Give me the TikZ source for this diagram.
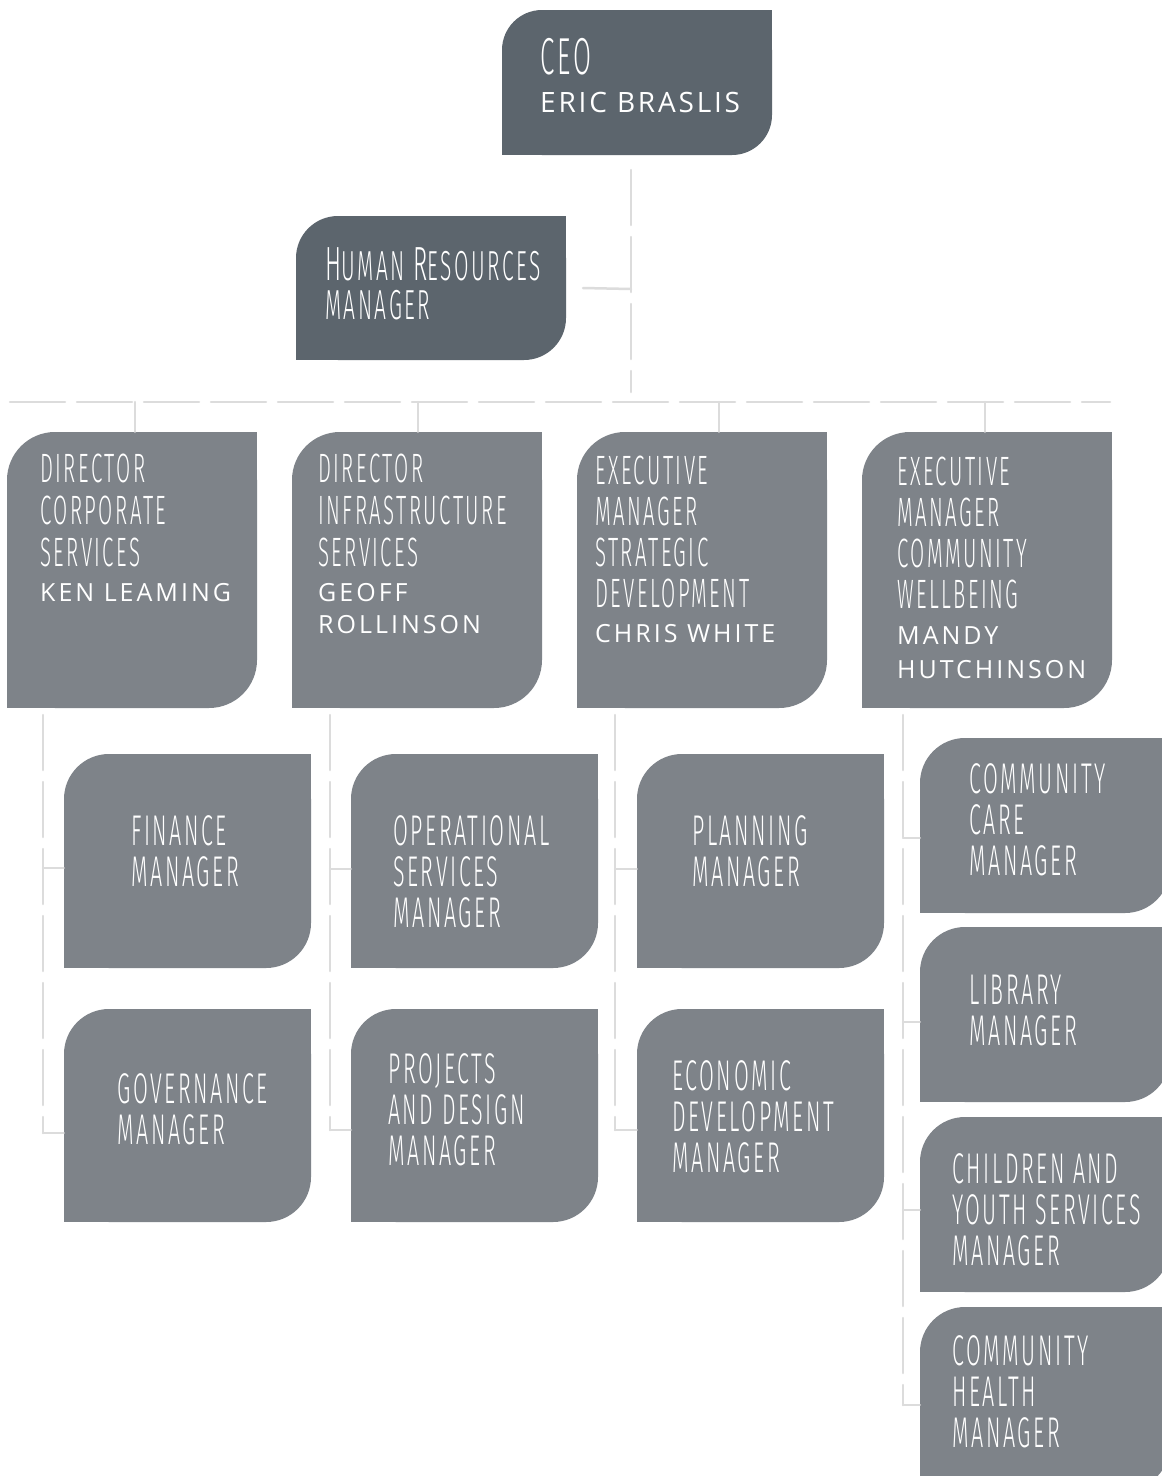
\documentclass[tikz,border=0pt]{standalone}
\usepackage{fontspec}
\IfFontExistsTF{Fira Sans Light}{%
  \newfontfamily\handfont[FakeStretch=0.5,LetterSpace=6]{Fira Sans Light}}{%
  \newfontfamily\handfont[FakeStretch=0.5,LetterSpace=6]{Fira Sans}}
\newfontfamily\namefont[LetterSpace=10]{Open Sans}
\newfontfamily\dirnamefont[LetterSpace=12]{Open Sans}
\definecolor{darkbox}{HTML}{5C656D}
\definecolor{midbox}{HTML}{7E8389}
\definecolor{linegray}{HTML}{DCDCDC}
\newcommand\leafbox[7]{% name, x1, y1, x2, y2, colour, radius
  \fill[#6, rounded corners=#7pt] (#2,-#3) rectangle (#4,-#5);
  \fill[#6] ({#4-#7},-#3) rectangle (#4,{-#3-#7});
  \fill[#6] (#2,{-#5+#7}) rectangle ({#2+#7},-#5);
  \node[inner sep=0pt, minimum width={#4-#2}, minimum height={#5-#3}] (#1) at ({(#2+#4)/2},{-(#3+#5)/2}) {};
}
\tikzset{
  handtxt/.style={anchor=north west, inner sep=0pt, text=white, align=left, font=\handfont\fontsize{43}{41}\selectfont},
  dirtxt/.style={handtxt, font=\handfont\fontsize{41}{42}\selectfont},
  nametxt/.style={anchor=north west, inner sep=0pt, text=white, align=left, font=\dirnamefont\fontsize{25}{32}\selectfont},
  dline/.style={draw=linegray, line width=2.5pt, dash pattern=on 55pt off 12pt, line cap=round},
  sline/.style={draw=linegray, line width=2.5pt, line cap=round},
}
\begin{document}
\begin{tikzpicture}[x=1pt,y=1pt]
\path[use as bounding box, clip] (0,0) rectangle (1162,-1476);
\fill[white] (0,0) rectangle (1162,-1476);

% ---------- connector end points ----------
\coordinate (ceoL) at (631,-170);
\coordinate (busL) at (10,-402);
\coordinate (busR) at (1110,-402);
\coordinate (ceoE) at (631,-392);
\coordinate (hrJ) at (631,-289);
\coordinate (v1) at (43,-715);
\coordinate (v2) at (330,-715);
\coordinate (v3) at (615,-715);
\coordinate (v4) at (903,-715);

% ---------- boxes ----------
\leafbox{ceo}{502}{10}{772}{155}{darkbox}{40}
\leafbox{hr}{296}{216}{566}{360}{darkbox}{42}
\leafbox{d1}{7}{432}{257}{708}{midbox}{48}
\leafbox{d2}{292}{432}{542}{708}{midbox}{48}
\leafbox{d3}{577}{432}{827}{708}{midbox}{48}
\leafbox{d4}{862}{432}{1112}{708}{midbox}{48}
\leafbox{fin}{64}{754}{311}{968}{midbox}{45}
\leafbox{ops}{351}{754}{598}{968}{midbox}{45}
\leafbox{plan}{637}{754}{884}{968}{midbox}{45}
\leafbox{gov}{64}{1009}{311}{1222}{midbox}{45}
\leafbox{proj}{351}{1009}{598}{1222}{midbox}{45}
\leafbox{econ}{637}{1009}{884}{1222}{midbox}{45}
\leafbox{care}{920}{738}{1170}{913}{midbox}{45}
\leafbox{lib}{920}{927}{1170}{1102}{midbox}{45}
\leafbox{child}{920}{1117}{1170}{1292}{midbox}{45}
\leafbox{health}{920}{1307}{1170}{1490}{midbox}{45}

% CEO line, HR stub, bus
\draw[dline] (ceoL) -- (ceoE);
\draw[sline] (hr.east -| 583,0) -- (hrJ);
\draw[dline] (busL) -- (busR);
\draw[sline] (135,-402) -- (d1.north -| 135,0);
\draw[sline] (418,-402) -- (d2.north -| 418,0);
\draw[sline] (719,-402) -- (d3.north -| 719,0);
\draw[sline] (985,-402) -- (d4.north -| 985,0);

% column 1
\draw[dline] (v1) -- (43,-1133);
\draw[sline] (43,-868) -- (fin.west |- 0,-868);
\draw[sline] (43,-1133) -- (gov.west |- 0,-1133);
% column 2
\draw[dline] (v2) -- (330,-1130);
\draw[sline] (330,-869) -- (ops.west |- 0,-869);
\draw[sline] (330,-1130) -- (proj.west |- 0,-1130);
% column 3
\draw[dline] (v3) -- (615,-1130);
\draw[sline] (615,-869) -- (plan.west |- 0,-869);
\draw[sline] (615,-1130) -- (econ.west |- 0,-1130);
% column 4
\draw[dline] (v4) -- (903,-1405);
\draw[sline] (903,-838) -- (care.west |- 0,-838);
\draw[sline] (903,-1022) -- (lib.west |- 0,-1022);
\draw[sline] (903,-1210) -- (child.west |- 0,-1210);
\draw[sline] (903,-1405) -- (health.west |- 0,-1405);

% ---------- texts ----------
\node[handtxt, font=\handfont\fontsize{52}{50}\selectfont] (ceoT) at (540,-38) {CEO};
\node[nametxt, font=\namefont\fontsize{28}{34}\selectfont] (ceoN) at (540,-92) {ERIC BRASLIS};

\node[handtxt, font=\handfont\fontsize{42}{44}\selectfont] (hrT) at (325,-247)
  {{\fontsize{48}{44}\selectfont H}UMAN {\fontsize{48}{44}\selectfont R}ESOURCES\\[-5pt]MANAGER};

\node[dirtxt] (d1T) at (40,-454) {DIRECTOR\\CORPORATE\\SERVICES};
\node[nametxt] (d1N) at (40,-583) {KEN LEAMING};

\node[dirtxt] (d2T) at (318,-454) {DIRECTOR\\INFRASTRUCTURE\\SERVICES};
\node[nametxt] (d2N) at (318,-583) {GEOFF\\ROLLINSON};

\node[dirtxt, font=\handfont\fontsize{41}{41}\selectfont] (d3T) at (595,-456) {EXECUTIVE\\MANAGER\\STRATEGIC\\DEVELOPMENT};
\node[nametxt] (d3N) at (595,-624) {CHRIS WHITE};

\node[dirtxt, font=\handfont\fontsize{41}{41}\selectfont] (d4T) at (897,-457) {EXECUTIVE\\MANAGER\\COMMUNITY\\WELLBEING};
\node[nametxt, font=\dirnamefont\fontsize{25}{34}\selectfont] (d4N) at (897,-626) {MANDY\\HUTCHINSON};

\node[handtxt] (finT) at (131,-815) {FINANCE\\MANAGER};
\node[handtxt] (govT) at (117,-1073) {GOVERNANCE\\MANAGER};
\node[handtxt] (opsT) at (393,-815) {OPERATIONAL\\SERVICES\\MANAGER};
\node[handtxt] (projT) at (388,-1053) {PROJECTS\\AND DESIGN\\MANAGER};
\node[handtxt] (planT) at (692,-815) {PLANNING\\MANAGER};
\node[handtxt] (econT) at (672,-1060) {ECONOMIC\\DEVELOPMENT\\MANAGER};
\node[handtxt] (careT) at (969,-763) {COMMUNITY\\CARE\\MANAGER};
\node[handtxt] (libT) at (969,-975) {LIBRARY\\MANAGER};
\node[handtxt] (childT) at (952,-1153) {CHILDREN AND\\YOUTH SERVICES\\MANAGER};
\node[handtxt] (healthT) at (952,-1335) {COMMUNITY\\HEALTH\\MANAGER};
\end{tikzpicture}
\end{document}
